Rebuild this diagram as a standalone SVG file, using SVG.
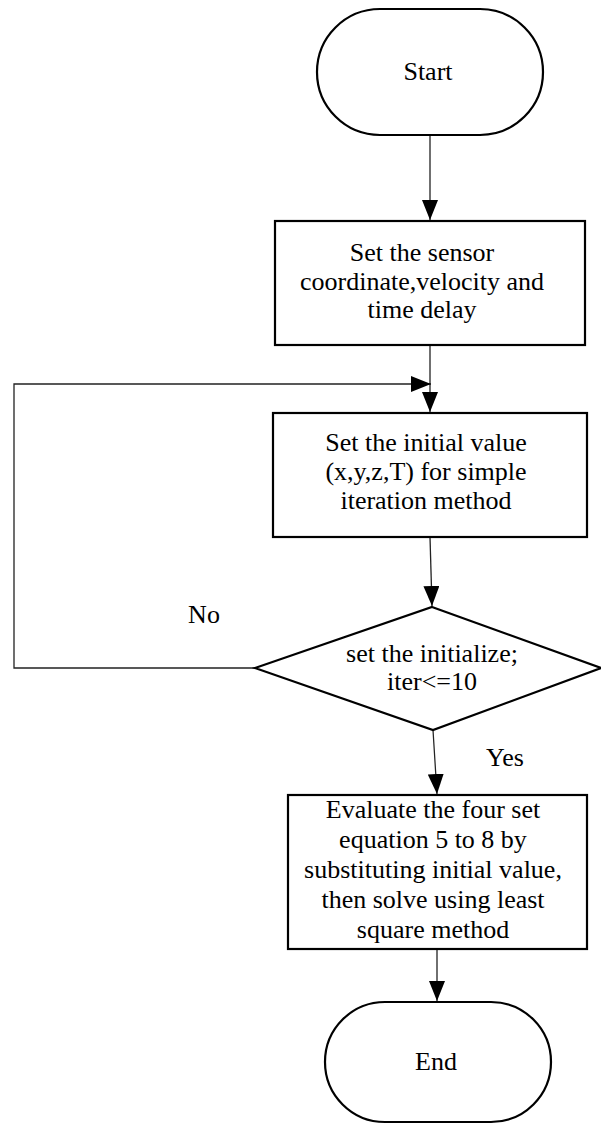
<svg xmlns="http://www.w3.org/2000/svg" width="601" height="1124" viewBox="0 0 601 1124">
<style>
.shape{fill:#fff;stroke:#000;stroke-width:2.2}
.conn{fill:none;stroke:#222;stroke-width:1.3}
.t{font-family:"Liberation Serif","Times New Roman",serif;font-size:26px;fill:#000;text-anchor:middle}
</style>
<defs>
<marker id="arr" markerUnits="userSpaceOnUse" markerWidth="20" markerHeight="16" refX="20" refY="8" orient="auto">
<path d="M0,0 L20,8 L0,16 z" fill="#000"/>
</marker>
</defs>
<rect width="601" height="1124" fill="#fff"/>
<g id="connectors">
<path class="conn" d="M430,135 L430,220" marker-end="url(#arr)"/>
<path class="conn" d="M430,345 L430,412" marker-end="url(#arr)"/>
<path class="conn" d="M430,537 L432,606" marker-end="url(#arr)"/>
<path class="conn" d="M433,730 L437,794" marker-end="url(#arr)"/>
<path class="conn" d="M437,949 L437,1001" marker-end="url(#arr)"/>
<path class="conn" d="M255,668 L14,668 L14,384 L431,384" stroke="#444" stroke-width="1.8" marker-end="url(#arr)"/>
<text class="t" x="204" y="623">No</text>
<text class="t" x="505" y="766">Yes</text>
</g>
<g id="start">
<rect class="shape" x="317" y="9" width="226" height="126" rx="63" ry="63"/>
<text class="t" x="428" y="80">Start</text>
</g>
<g id="set-sensor">
<rect class="shape" x="275" y="221" width="310" height="124"/>
<text class="t" x="422" y="261">Set the sensor</text>
<text class="t" x="422" y="290">coordinate,velocity and</text>
<text class="t" x="422" y="318">time delay</text>
</g>
<g id="set-initial">
<rect class="shape" x="273" y="413" width="314" height="124"/>
<text class="t" x="426" y="451">Set the initial value</text>
<text class="t" x="426" y="480">(x,y,z,T) for simple</text>
<text class="t" x="426" y="509">iteration method</text>
</g>
<g id="decision">
<polygon class="shape" points="432,607 601,668 433,730 255,668"/>
<text class="t" x="432" y="662">set the initialize;</text>
<text class="t" x="432" y="690">iter&lt;=10</text>
</g>
<g id="evaluate">
<rect class="shape" x="288" y="795" width="299" height="154"/>
<text class="t" x="433" y="818">Evaluate the four set</text>
<text class="t" x="433" y="848">equation 5 to 8 by</text>
<text class="t" x="433" y="878">substituting initial value,</text>
<text class="t" x="433" y="908">then solve using least</text>
<text class="t" x="433" y="938">square method</text>
</g>
<g id="end">
<rect class="shape" x="325" y="1002" width="226" height="120" rx="60" ry="60"/>
<text class="t" x="436" y="1070">End</text>
</g>
</svg>
